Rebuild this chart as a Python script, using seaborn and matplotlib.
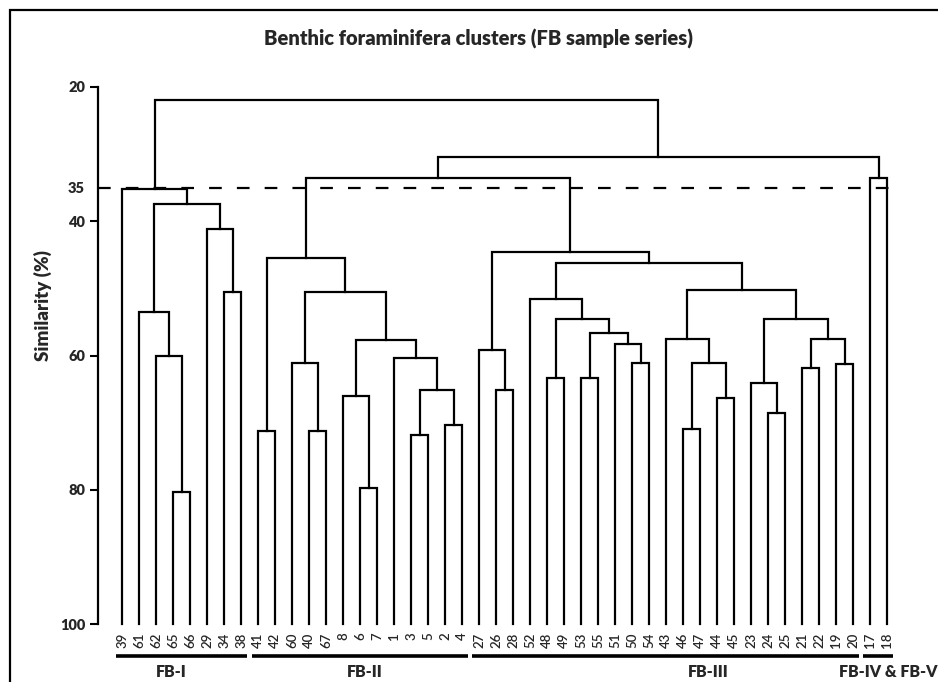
import numpy as np
import pandas as pd
import matplotlib
matplotlib.use("Agg")
import matplotlib.pyplot as plt
from matplotlib.lines import Line2D
import seaborn as sns

# Sample order along the dendrogram
leaf_labels = ["39", "61", "62", "65", "66", "29", "34", "38",
               "41", "42", "60", "40", "67", "8", "6", "7", "1", "3", "5", "2", "4",
               "27", "26", "28", "52", "48", "49", "53", "55", "51", "50", "54",
               "43", "46", "47", "44", "45", "23", "24", "25", "21", "22", "19", "20",
               "17", "18"]

# Agglomeration steps: node "mK" is the cluster formed at step K
merge_left = ["65", "62", "61", "34", "29", "m2", "39",
              "41", "40", "60", "6", "8", "3", "2", "m12", "1", "m11", "m9", "m7",
              "26", "27", "48", "53", "50", "51", "m22", "m21", "52",
              "46", "44", "m28", "43", "24", "23", "21", "19", "m34", "m33", "m31", "m27", "m20",
              "17", "m18", "m42", "m6"]
merge_right = ["66", "m0", "m1", "38", "m3", "m4", "m5",
               "42", "67", "m8", "7", "m10", "5", "4", "m13", "m14", "m15", "m16", "m17",
               "28", "m19", "49", "55", "54", "m23", "m24", "m25", "m26",
               "47", "45", "m29", "m30", "25", "m32", "22", "20", "m35", "m36", "m37", "m38", "m39",
               "18", "m40", "m41", "m43"]
merge_similarity = [80.4, 60.0, 53.5, 50.6, 41.1, 37.5, 35.2,
                    71.3, 71.2, 61.1, 79.8, 66.1, 71.8, 70.4, 65.2, 60.4, 57.7, 50.5, 45.5,
                    65.1, 59.2, 63.4, 63.4, 61.1, 58.3, 56.7, 54.5, 51.6,
                    71.0, 66.4, 61.1, 57.6, 68.5, 64.1, 61.9, 61.3, 57.5, 54.6, 50.3, 46.2, 44.6,
                    33.6, 33.6, 30.5, 21.9]

cut_level = 35
group_names = ["FB-I", "FB-II", "FB-III", "FB-IV & FB-V"]
group_sizes = [8, 13, 23, 2]

# Build the U-shaped links of the dendrogram
pos = {lab: float(i) for i, lab in enumerate(leaf_labels)}
height = {lab: 100.0 for lab in leaf_labels}
rows = []
for k, (a, b, s) in enumerate(zip(merge_left, merge_right, merge_similarity)):
    xa, xb = pos[a], pos[b]
    for j, (x, y) in enumerate([(xa, height[a]), (xa, s), (xb, s), (xb, height[b])]):
        rows.append({"link": k, "step": j, "x": x, "y": y})
    pos[f"m{k}"] = (xa + xb) / 2
    height[f"m{k}"] = s
links = pd.DataFrame(rows)

sns.set_theme(style="white")
plt.rcParams["font.family"] = ["Lato", "DejaVu Sans"]

W, H = 938, 682
fig = plt.figure(figsize=(W / 100, H / 100), dpi=100)
ax_left, ax_right, ax_top, ax_bottom = 97.5, 912.5, 87, 624
ax = fig.add_axes([ax_left / W, 1 - ax_bottom / H,
                   (ax_right - ax_left) / W, (ax_bottom - ax_top) / H])

sns.lineplot(data=links, x="x", y="y", units="link", estimator=None, sort=False,
             color="black", linewidth=1.6, ax=ax)
for ln in ax.lines:
    ln.set_clip_on(False)
    ln.set_solid_joinstyle("miter")
    ln.set_solid_capstyle("projecting")

# Similarity cut-off
ax.plot([-1.45, 45.9], [cut_level, cut_level], color="black", lw=1.6,
        linestyle=(0, (5.7, 6.8)), clip_on=False)

ax.set_xlim(-1.47, 46.5)
ax.set_ylim(100, 20)
ax.set_facecolor("white")

ax.set_xticks(range(len(leaf_labels)))
ax.set_xticklabels(leaf_labels, rotation=90, fontsize=9.5, fontweight="semibold")
ax.tick_params(axis="x", length=0, pad=6)

ax.set_yticks([20, cut_level, 40, 60, 80, 100])
ax.set_yticklabels(["20", "35", "40", "60", "80", "100"], fontsize=10.5, fontweight="heavy")
ax.tick_params(axis="y", direction="out", length=6, width=1.5, color="black", pad=3, left=True)
ax.yaxis.get_major_ticks()[1].tick1line.set_visible(False)

ax.set_xlabel("")
ax.set_ylabel("")
sns.despine(ax=ax, bottom=True)
ax.spines["left"].set_bounds(20, 100)
ax.spines["left"].set_linewidth(1.6)
ax.spines["left"].set_color("black")

# Cluster groups below the sample labels
tr = ax.get_xaxis_transform()
bar_y = (ax_bottom - 656) / (ax_bottom - ax_top)
lab_y = (ax_bottom - 672) / (ax_bottom - ax_top)
label_shift = [-0.6, 0.3, 2.5, 0.0]
start = 0
for name, n, shift in zip(group_names, group_sizes, label_shift):
    x0, x1 = start - 0.4, start + n - 1 + 0.35
    ax.plot([x0, x1], [bar_y, bar_y], transform=tr, color="black", lw=2.6,
            solid_capstyle="butt", clip_on=False)
    if name == group_names[-1]:
        fig.text(1 - 1 / W, 1 - 672 / H, name, ha="right", va="center",
                 fontsize=11.5, fontweight="heavy")
    else:
        ax.text((x0 + x1) / 2 + shift, lab_y, name, transform=tr, ha="center",
                va="center", fontsize=11.5, fontweight="heavy")
    start += n

fig.text(43 / W, 1 - 306 / H, "Similarity (%)", rotation=90, ha="center", va="center",
         fontsize=13.5, fontweight="heavy")
fig.text(478 / W, 1 - 45.7 / H, "Benthic foraminifera clusters (FB sample series)",
         ha="center", va="baseline", fontsize=14.5, fontweight="heavy")

# Frame lines on the left and top edges
fig.lines.append(Line2D([9.5 / W, 9.5 / W, 1.0], [0.0, 1 - 9.5 / H, 1 - 9.5 / H],
                        transform=fig.transFigure, color="black", linewidth=1.6,
                        solid_joinstyle="miter"))

fig.savefig("out.png", dpi=100, facecolor="white")
